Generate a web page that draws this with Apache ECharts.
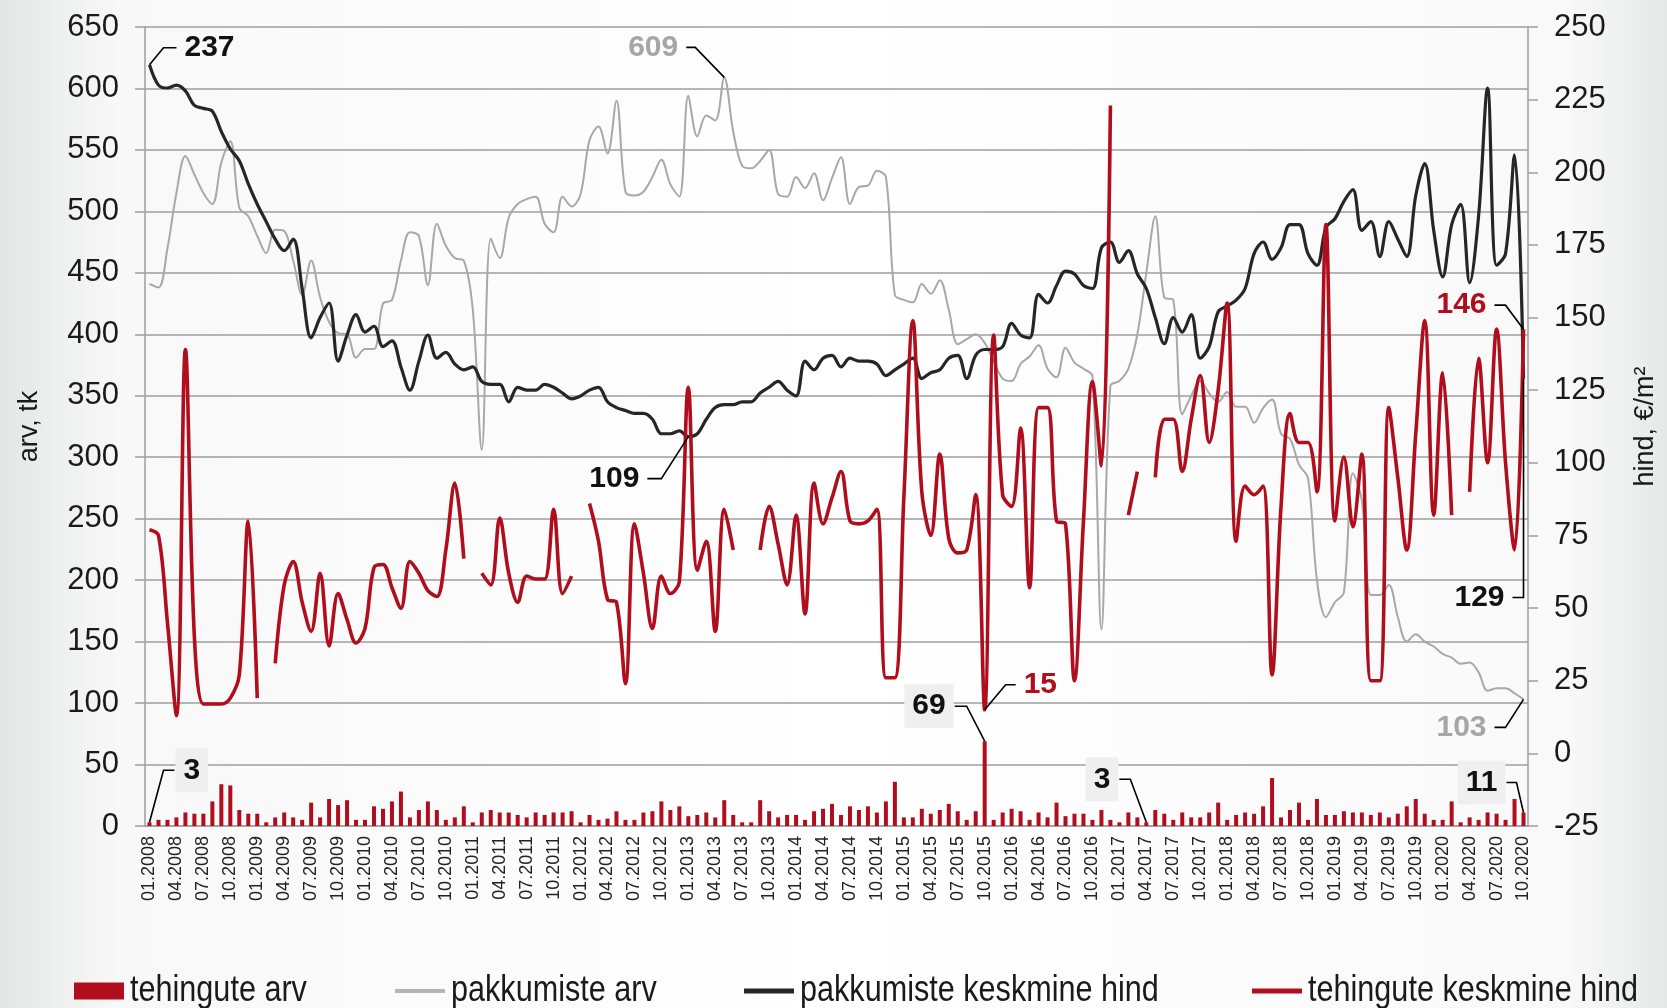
<!DOCTYPE html>
<html>
<head>
<meta charset="utf-8">
<script src="https://cdn.jsdelivr.net/npm/echarts@6/dist/echarts.min.js"></script>
<style>
html,body{margin:0;padding:0;background:#fff;overflow:hidden;width:1667px;height:1008px;}
#main{position:absolute;left:0;top:0;width:1667px;height:1008px;}
</style>
</head>
<body>
<div id="main"></div>
<script>
// ---------- DATA ----------
const startYear = 2008, endYear = 2020, endMonth = 10;
const months = [];
for (let y = startYear; y <= endYear; y++) {
  for (let m = 1; m <= 12; m++) {
    if (y === endYear && m > endMonth) break;
    months.push((m < 10 ? '0' + m : '' + m) + '.' + y);
  }
}

// tehingute arv (bars, left axis)
const dealsCount = [
  3,5,5,7,11,10,10,20,34,33,13,10,
  10,3,7,11,7,5,19,7,22,17,21,5,
  5,16,14,20,28,7,13,20,13,5,7,16,
  3,11,13,11,11,9,7,11,9,11,11,12,
  3,9,5,6,12,5,5,11,12,20,13,16,
  8,9,11,7,21,9,3,3,21,12,7,9,
  9,5,12,14,18,9,16,13,16,11,20,36,
  7,7,14,10,13,18,12,5,12,69,5,11,
  14,12,5,11,7,19,8,10,10,5,13,5,
  3,11,7,3,13,10,5,11,7,7,11,19,
  5,9,11,10,16,39,7,13,19,5,22,9,
  9,12,11,11,9,11,7,10,16,22,10,5,
  5,20,3,7,5,11,10,5,22,11
];

// pakkumiste arv (grey line, left axis)
const offersCount = [
  441,438,470,515,545,530,515,506,540,557,503,496,
  480,466,485,484,460,432,460,430,410,401,400,381,
  388,388,425,428,460,483,480,440,490,472,462,460,
  420,306,478,462,495,506,510,512,490,483,512,504,
  514,558,569,547,590,516,513,516,528,542,522,512,
  594,561,578,574,609,565,537,535,541,550,514,512,
  528,519,531,509,527,544,506,520,521,533,528,432,
  428,426,441,433,444,420,392,396,400,393,378,364,
  362,376,382,391,372,365,389,377,372,366,160,358,
  362,372,400,450,496,430,428,335,350,362,352,345,
  353,341,341,328,340,347,319,315,294,283,200,170,
  182,190,287,265,188,188,196,170,150,156,150,146,
  140,137,132,133,125,110,112,112,108,103
];

// pakkumiste keskmine hind (black line, right axis)
const offersPrice = [
  237,230,229,230,228,223,222,221,214,208,204,196,
  189,183,177,173,177,160,143,150,155,135,144,151,
  145,147,140,142,133,125,135,144,136,138,134,132,
  133,128,127,127,121,126,125,125,127,126,124,122,
  123,125,126,121,119,118,117,117,115,110,110,111,
  109,110,115,119,120,120,121,121,124,126,128,125,
  123,135,132,136,137,133,136,135,135,134,130,132,
  134,136,129,131,132,136,137,129,137,139,139,140,
  148,144,143,158,155,161,166,165,161,160,174,176,
  169,173,165,160,150,141,150,145,151,136,140,152,
  154,156,160,172,176,170,174,182,182,172,168,181,
  184,190,194,180,183,171,183,177,171,192,203,180,
  164,182,189,162,185,229,168,172,206,129
];

// tehingute keskmine hind (red line, right axis), null = no data
const dealsPrice = [
  77,75,45,13,139,40,17,17,17,19,27,80,
  19,null,31,58,66,52,42,62,37,55,46,38,
  43,64,65,57,50,66,62,56,54,70,93,67,
  null,62,58,81,62,52,61,60,60,84,55,61,
  null,86,73,53,52,24,79,62,43,61,55,59,
  126,63,73,42,84,70,null,null,70,85,72,58,
  82,48,93,79,88,97,80,79,80,84,26,26,
  88,149,90,75,103,74,69,70,89,15,144,89,
  85,112,57,119,119,80,79,25,80,128,99,223,
  null,82,97,null,95,115,115,97,115,130,107,125,
  155,73,92,89,92,27,85,117,107,107,90,182,
  80,102,78,103,25,25,119,95,70,110,149,82,
  131,82,null,90,136,100,146,100,70,146
];

const leftTicks = {min: 0, max: 650, interval: 50};
const rightTicks = {min: -25, max: 250, interval: 25};

const seriesNames = ['tehingute arv', 'pakkumiste arv', 'pakkumiste keskmine hind', 'tehingute keskmine hind'];

// ---------- STYLE ----------
const RED = '#B00D1D';
const BLACK = '#262626';
const GREY = '#A8A8A8';
const GRID = '#9E9E9E';
const FONT = '"Liberation Sans", Arial, sans-serif';

const chart = echarts.init(document.getElementById('main'), null, {renderer: 'canvas', width: 1667, height: 1008});

const option = {
  animation: false,
  backgroundColor: {
    type: 'linear', x: 0, y: 0, x2: 1, y2: 0,
    colorStops: [
      {offset: 0, color: '#e4e6e5'},
      {offset: 0.07, color: '#f8f8f8'},
      {offset: 0.5, color: '#ffffff'},
      {offset: 0.94, color: '#f9f9f9'},
      {offset: 1, color: '#e6e8e7'}
    ]
  },
  grid: {left: 145, right: 131, top: 27, bottom: 182},
  legend: {show: false, data: seriesNames},
  xAxis: {
    type: 'category',
    data: months,
    boundaryGap: true,
    axisLine: {show: true, lineStyle: {color: GRID, width: 1.5}},
    axisTick: {show: false},
    axisLabel: {
      interval: 2, rotate: 90, fontFamily: FONT, fontSize: 18, color: '#222', margin: 10
    }
  },
  yAxis: [
    {
      type: 'value', min: leftTicks.min, max: leftTicks.max, interval: leftTicks.interval,
      name: 'arv, tk', nameLocation: 'middle', nameRotate: 90, nameGap: 102,
      nameTextStyle: {fontFamily: FONT, fontSize: 27, color: '#1a1a1a'},
      axisLine: {show: true, lineStyle: {color: GRID, width: 1.5}},
      axisTick: {show: true, length: 10, lineStyle: {color: GRID, width: 1.5}},
      axisLabel: {fontFamily: FONT, fontSize: 31, color: '#1a1a1a', margin: 26},
      splitLine: {show: true, lineStyle: {color: GRID, width: 1.5}}
    },
    {
      type: 'value', min: rightTicks.min, max: rightTicks.max, interval: rightTicks.interval,
      name: 'hind, €/m²', nameLocation: 'middle', nameRotate: 90, nameGap: 104,
      nameTextStyle: {fontFamily: FONT, fontSize: 27, color: '#1a1a1a'},
      axisLine: {show: true, lineStyle: {color: GRID, width: 1.5}},
      axisTick: {show: true, length: 10, lineStyle: {color: GRID, width: 1.5}},
      axisLabel: {fontFamily: FONT, fontSize: 31, color: '#1a1a1a', margin: 26},
      splitLine: {show: false}
    }
  ],
  series: [
    {
      name: seriesNames[0], type: 'bar', yAxisIndex: 0, data: dealsCount,
      barWidth: 4, itemStyle: {color: RED}, z: 2
    },
    {
      name: seriesNames[1], type: 'line', yAxisIndex: 0, data: offersCount,
      smooth: 0.35, symbol: 'none', lineStyle: {color: GREY, width: 2}, itemStyle: {color: GREY}, z: 3
    },
    {
      name: seriesNames[2], type: 'line', yAxisIndex: 1, data: offersPrice,
      smooth: 0.35, symbol: 'none', lineStyle: {color: BLACK, width: 3.2}, itemStyle: {color: BLACK}, z: 4
    },
    {
      name: seriesNames[3], type: 'line', yAxisIndex: 1, data: dealsPrice,
      smooth: 0.35, symbol: 'none', connectNulls: false,
      lineStyle: {color: RED, width: 3.6}, itemStyle: {color: RED}, z: 5
    }
  ]
};
chart.setOption(option);

// ---------- CALLOUTS (anchored on data through the chart's own scales) ----------
const callouts = [
  {text: '237', data: offersPrice, idx: 0, axis: 1, elbow: [14, -17], end: [27, -17], side: 'right', color: '#111'},
  {text: '609', data: offersCount, idx: 64, axis: 0, elbow: [-29, -30], end: [-38, -30], side: 'left', color: '#A6A6A6'},
  {text: '109', data: offersPrice, idx: 60, axis: 1, elbow: [-27, 42], end: [-41, 42], side: 'left', color: '#111'},
  {text: '69', data: dealsCount, idx: 93, axis: 0, elbow: [-18, -35], end: [-30, -35], side: 'left', color: '#111', box: true},
  {text: '15', data: dealsPrice, idx: 93, axis: 1, elbow: [21, -25], end: [31, -25], side: 'right', color: '#B00D1D'},
  {text: '3', data: dealsCount, idx: 0, axis: 0, elbow: [14, -52], end: [25, -52], side: 'right', color: '#111', box: true},
  {text: '3', data: dealsCount, idx: 111, axis: 0, elbow: [-16, -43], end: [-27, -43], side: 'left', color: '#111', box: true},
  {text: '11', data: dealsCount, idx: 153, axis: 0, elbow: [-7, -30], end: [-17, -30], side: 'left', color: '#111', box: true},
  {text: '146', data: dealsPrice, idx: 153, axis: 1, elbow: [-18, -24], end: [-29, -24], side: 'left', color: '#B00D1D'},
  {text: '129', data: offersPrice, idx: 153, axis: 1, elbow: [0, 219], end: [-11, 219], side: 'left', color: '#111'},
  {text: '103', data: offersCount, idx: 153, axis: 0, elbow: [-18, 28], end: [-29, 28], side: 'left', color: '#A6A6A6'}
];

const graphics = [];
callouts.forEach(c => {
  const p = chart.convertToPixel({xAxisIndex: 0, yAxisIndex: c.axis}, [c.idx, c.data[c.idx]]);
  const e = [p[0] + c.elbow[0], p[1] + c.elbow[1]];
  const f = [p[0] + c.end[0], p[1] + c.end[1]];
  graphics.push({
    type: 'polyline', z: 100, silent: true,
    shape: {points: [p, e, f]},
    style: {stroke: '#000', lineWidth: 1.6, fill: null}
  });
  const gap = c.box ? 1 : 8;
  const tx = c.side === 'right' ? f[0] + gap : f[0] - gap;
  const style = {
    text: c.text, x: tx, y: f[1],
    fill: c.color,
    font: 'bold 30px ' + FONT,
    align: c.side === 'right' ? 'left' : 'right',
    textAlign: c.side === 'right' ? 'left' : 'right',
    verticalAlign: 'middle', textVerticalAlign: 'middle'
  };
  if (c.box) {
    style.backgroundColor = '#EFEFEF';
    style.padding = [7, 8, 7, 8];
  }
  graphics.push({type: 'text', z: 101, silent: true, style: style});
});

// ---------- LEGEND (condensed text, drawn as graphic) ----------
const legendItems = [
  {name: seriesNames[0], kind: 'box', color: RED, x: 74},
  {name: seriesNames[1], kind: 'line', color: '#B4B4B4', width: 4, x: 395},
  {name: seriesNames[2], kind: 'line', color: BLACK, width: 5, x: 744},
  {name: seriesNames[3], kind: 'line', color: RED, width: 5, x: 1252}
];
const legendY = 991;
legendItems.forEach(it => {
  if (it.kind === 'box') {
    graphics.push({type: 'rect', silent: true, z: 100,
      shape: {x: it.x, y: legendY - 8.5, width: 50, height: 17}, style: {fill: it.color}});
  } else {
    graphics.push({type: 'line', silent: true, z: 100,
      shape: {x1: it.x, y1: legendY, x2: it.x + 50, y2: legendY},
      style: {stroke: it.color, lineWidth: it.width}});
  }
  graphics.push({type: 'text', silent: true, z: 100,
    x: it.x + 56, y: legendY, scaleX: 0.85, scaleY: 1,
    style: {text: it.name, x: 0, y: 0, fill: '#1a1a1a', font: '36px ' + FONT,
      align: 'left', textAlign: 'left', verticalAlign: 'middle', textVerticalAlign: 'middle'}});
});

chart.setOption({graphic: graphics});
</script>
</body>
</html>
